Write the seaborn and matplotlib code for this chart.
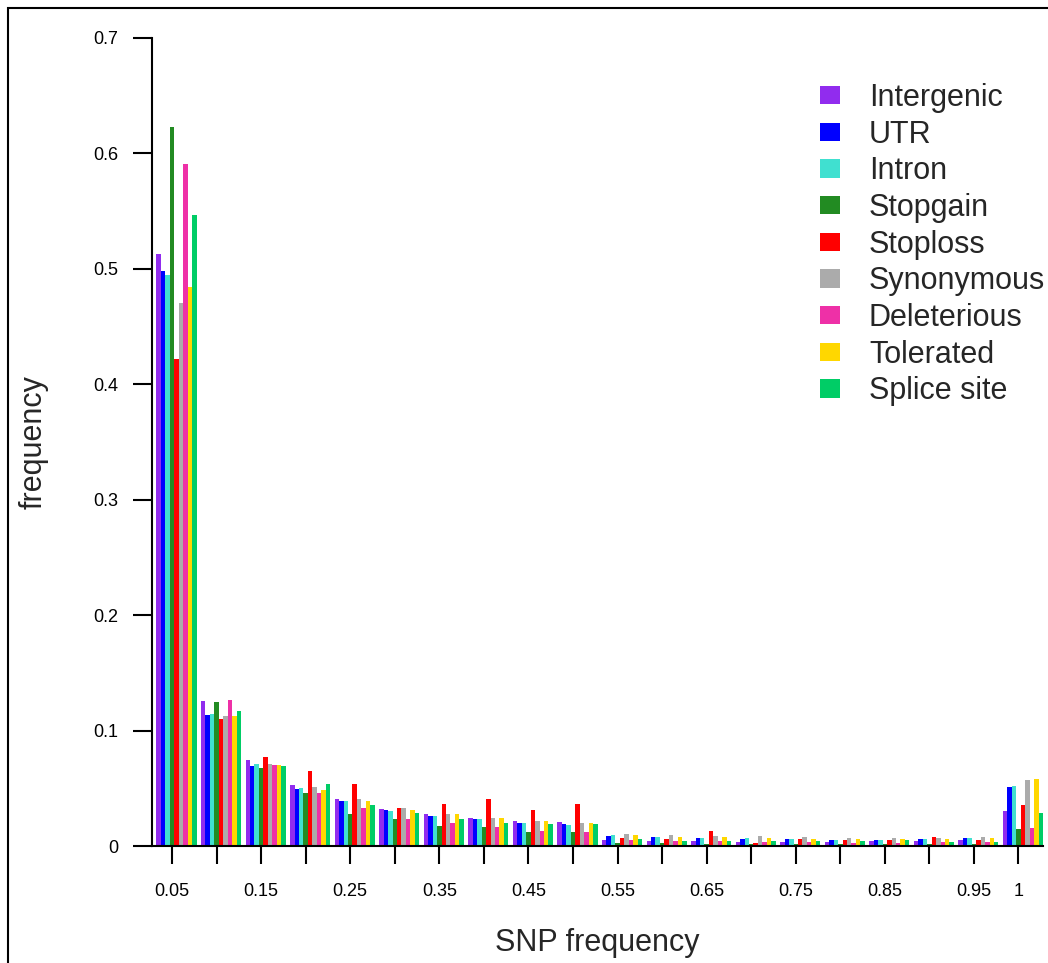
import numpy as np
import pandas as pd
import matplotlib
matplotlib.use("Agg")
import matplotlib.pyplot as plt
from matplotlib.patches import Rectangle
import seaborn as sns

# Allele-frequency bins (upper edge of each 0.05-wide bin)
bins = ["0.05", "0.1", "0.15", "0.2", "0.25", "0.3", "0.35", "0.4", "0.45", "0.5",
        "0.55", "0.6", "0.65", "0.7", "0.75", "0.8", "0.85", "0.9", "0.95", "1"]
tick_labels = ["0.05", "", "0.15", "", "0.25", "", "0.35", "", "0.45", "",
               "0.55", "", "0.65", "", "0.75", "", "0.85", "", "0.95", "1"]

categories = ["Intergenic", "UTR", "Intron", "Stopgain", "Stoploss",
              "Synonymous", "Deleterious", "Tolerated", "Splice site"]
colors = ["#912CEE", "#0000FF", "#40E0D0", "#228B22", "#FF0000",
          "#ABABAB", "#EE30A7", "#FFD700", "#00CD66"]

intergenic = [0.513, 0.1257, 0.0744, 0.0525, 0.0407, 0.0320, 0.0277, 0.0239, 0.0216, 0.0208,
              0.0055, 0.0046, 0.0046, 0.0037, 0.0037, 0.0037, 0.0040, 0.0040, 0.0055, 0.0303]
utr = [0.498, 0.1136, 0.0692, 0.0493, 0.0389, 0.0311, 0.0260, 0.0231, 0.0202, 0.0190,
       0.0087, 0.0078, 0.0069, 0.0061, 0.0061, 0.0055, 0.0055, 0.0061, 0.0069, 0.0508]
intron = [0.4945, 0.1142, 0.0707, 0.0502, 0.0389, 0.0303, 0.0260, 0.0231, 0.0202, 0.0185,
          0.0095, 0.0081, 0.0069, 0.0069, 0.0061, 0.0055, 0.0055, 0.0061, 0.0069, 0.0517]
stopgain = [0.623, 0.1248, 0.0675, 0.0456, 0.0277, 0.0231, 0.0170, 0.0161, 0.0124, 0.0124,
            0.0026, 0.0026, 0.0020, 0.0020, 0.0020, 0.0020, 0.0020, 0.0015, 0.0015, 0.0145]
stoploss = [0.422, 0.1104, 0.0767, 0.0646, 0.0533, 0.0329, 0.0366, 0.0407, 0.0314, 0.0361,
            0.0069, 0.0061, 0.0130, 0.0029, 0.0061, 0.0055, 0.0050, 0.0078, 0.0055, 0.0355]
synonymous = [0.4706, 0.1122, 0.0712, 0.0510, 0.0404, 0.0329, 0.0277, 0.0239, 0.0216, 0.0202,
              0.0104, 0.0095, 0.0087, 0.0087, 0.0078, 0.0069, 0.0069, 0.0069, 0.0078, 0.0572]
deleterious = [0.5906, 0.1263, 0.0701, 0.0456, 0.0329, 0.0236, 0.0202, 0.0161, 0.0133, 0.0124,
               0.0055, 0.0046, 0.0046, 0.0037, 0.0037, 0.0026, 0.0026, 0.0035, 0.0035, 0.0153]
tolerated = [0.4844, 0.1128, 0.0698, 0.0484, 0.0389, 0.0311, 0.0277, 0.0245, 0.0216, 0.0202,
             0.0095, 0.0081, 0.0078, 0.0069, 0.0061, 0.0061, 0.0061, 0.0061, 0.0069, 0.0578]
splice_site = [0.5467, 0.1168, 0.0689, 0.0533, 0.0352, 0.0283, 0.0231, 0.0202, 0.0190, 0.0190,
               0.0061, 0.0046, 0.0046, 0.0046, 0.0046, 0.0040, 0.0050, 0.0035, 0.0035, 0.0289]

series = [intergenic, utr, intron, stopgain, stoploss,
          synonymous, deleterious, tolerated, splice_site]

y_ticks = [0.0, 0.1, 0.2, 0.3, 0.4, 0.5, 0.6, 0.7]
y_tick_labels = ["0", "0.1", "0.2", "0.3", "0.4", "0.5", "0.6", "0.7"]

df = pd.DataFrame({
    "bin": np.tile(bins, len(categories)),
    "type": np.repeat(categories, len(bins)),
    "freq": np.concatenate([np.asarray(s) for s in series]),
})

sns.set_style("white")
plt.rcParams["font.family"] = ["Liberation Sans", "DejaVu Sans"]

W, H = 1048, 963
fig = plt.figure(figsize=(W / 100, H / 100), dpi=100)
x0, x1, y0, y1 = 152, 1043, 846, 38
ax = fig.add_axes([x0 / W, 1 - y0 / H, (x1 - x0) / W, (y0 - y1) / H])

sns.barplot(data=df, x="bin", y="freq", hue="type", order=bins,
            hue_order=categories, palette=colors, width=0.9, gap=0,
            dodge=True, saturation=1, linewidth=0, errorbar=None, ax=ax)

n = len(bins)
ax.set_xlim(-0.55, n - 0.55)
ax.set_ylim(0, 0.7)

# tick marks sit under the fourth bar of each group
ax.set_xticks([i - 0.1 for i in range(n)])
ax.set_xticklabels(tick_labels, fontsize=13)
ax.set_yticks(y_ticks)
ax.set_yticklabels(y_tick_labels, fontsize=13)
ax.tick_params(axis="x", direction="out", length=13, width=1.5, pad=13.5,
               colors="black", bottom=True)
ax.tick_params(axis="y", direction="out", length=13.7, width=1.5, pad=10.5,
               colors="black", left=True)

sns.despine(ax=ax, top=True, right=True)
for side in ("left", "bottom"):
    ax.spines[side].set_linewidth(1.5)
    ax.spines[side].set_color("black")

ax.set_xlabel("SNP frequency", fontsize=22)
ax.set_ylabel("frequency", fontsize=22)
ax.xaxis.set_label_coords(0.5, (y0 - 928) / (y0 - y1))
ax.yaxis.set_label_coords((49 - x0) / (x1 - x0), 0.5)

handles, labels = ax.get_legend_handles_labels()
ax.legend(handles, labels, loc="upper left",
          bbox_to_anchor=(820 / W, 1 - 83 / H), bbox_transform=fig.transFigure,
          frameon=False, fontsize=22, handlelength=0.65, handleheight=0.55,
          handletextpad=0.95, labelspacing=0.218, borderpad=0, borderaxespad=0)

# outer frame around the figure
fig.add_artist(Rectangle((8 / W, -0.1), 1.2, 1.1 - 8 / H, transform=fig.transFigure,
                         fill=False, edgecolor="black", linewidth=1.5, clip_on=False))

fig.savefig("out.png", dpi=100)
